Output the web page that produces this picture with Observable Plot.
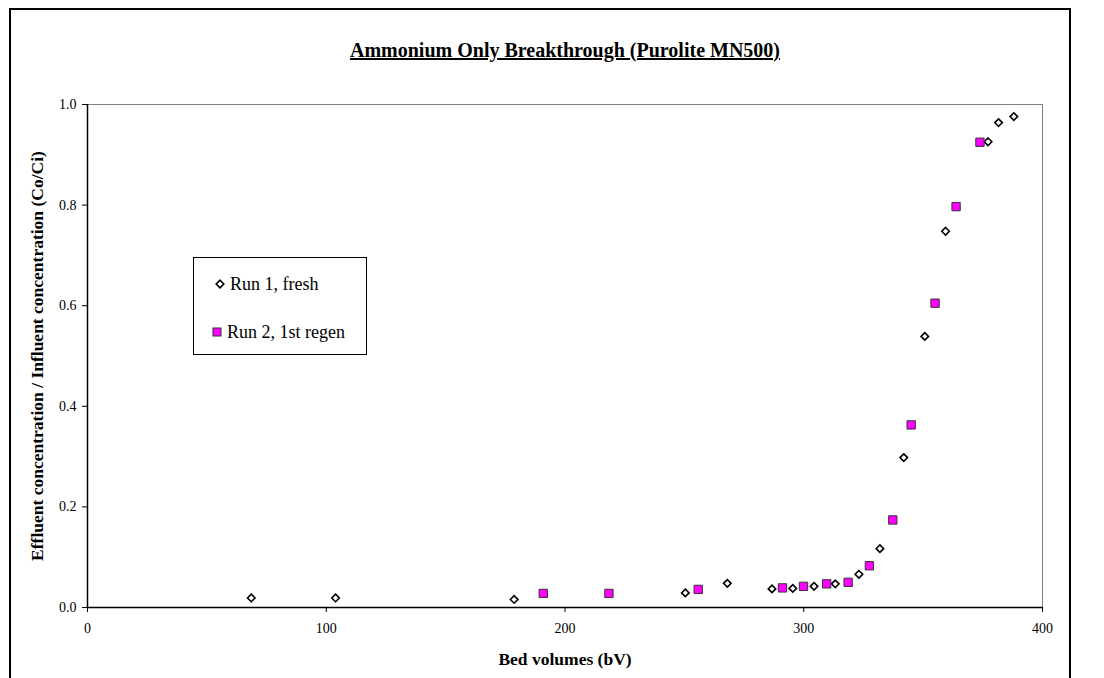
<!DOCTYPE html>
<html>
<head>
<meta charset="utf-8">
<script src="https://cdn.jsdelivr.net/npm/d3@7"></script>
<script src="https://cdn.jsdelivr.net/npm/@observablehq/plot@0.6"></script>
<style>
  html, body { margin: 0; padding: 0; background: white; }
  #wrap { position: relative; width: 1104px; height: 678px; overflow: hidden; font-family: "Liberation Serif", "Times New Roman", serif; }
  #border { position: absolute; left: 9px; top: 8px; width: 1062px; height: 700px; border: 2px solid black; box-sizing: border-box; }
  #title { position: absolute; left: 0; top: 38px; width: 1130px; text-align: center; font-weight: bold; font-size: 20px; line-height: 24px; text-decoration: underline; }
  #chart { position: absolute; left: 0; top: 0; }
  #legend { position: absolute; left: 193px; top: 257px; width: 174px; height: 98px; border: 1px solid black; box-sizing: border-box; background: white; font-size: 18px; }
  .item { position: absolute; display: flex; align-items: center; gap: 5px; line-height: 20px; }
</style>
</head>
<body>
<div id="wrap">
  <div id="chart"></div>
  <div id="border"></div>
  <div id="title">Ammonium Only Breakthrough (Purolite MN500)</div>
  <div id="legend">
    <div class="item" style="left:21px; top:16px"><svg width="10" height="10"><path d="M5,1.2L8.8,5L5,8.8L1.2,5Z" fill="white" stroke="black" stroke-width="1.6"/></svg><span id="l1"></span></div>
    <div class="item" style="left:18px; top:64px"><svg width="10" height="10"><rect x="1" y="1" width="8" height="8" fill="#FF00FF" stroke="#333" stroke-width="1"/></svg><span id="l2"></span></div>
  </div>
</div>
<script>
const seriesNames = ["Run 1, fresh", "Run 2, 1st regen"];
const run1X = [68.6, 103.9, 178.7, 250.4, 268.0, 286.7, 295.4, 304.3, 313.2, 323.1, 331.9, 341.9, 350.7, 359.4, 377.2, 381.6, 388.0];
const run1Y = [0.019, 0.019, 0.016, 0.029, 0.048, 0.037, 0.038, 0.042, 0.047, 0.066, 0.117, 0.298, 0.539, 0.748, 0.926, 0.964, 0.976];
const run2X = [190.9, 218.4, 255.8, 291.1, 299.9, 309.6, 318.6, 327.5, 337.3, 345.0, 355.0, 363.8, 373.8];
const run2Y = [0.028, 0.028, 0.036, 0.039, 0.042, 0.047, 0.050, 0.083, 0.174, 0.363, 0.605, 0.797, 0.925];
const xTicks = [0, 100, 200, 300, 400];
const yTicks = [0, 0.2, 0.4, 0.6, 0.8, 1.0];
const xLabel = "Bed volumes (bV)";
const yLabel = "Effluent concentration / Influent concentration (Co/Ci)";

const run1 = run1X.map((x, i) => ({x, y: run1Y[i]}));
const run2 = run2X.map((x, i) => ({x, y: run2Y[i]}));

document.getElementById("l1").textContent = seriesNames[0];
document.getElementById("l2").textContent = seriesNames[1];

const chart = Plot.plot({
  width: 1104,
  height: 678,
  marginLeft: 87,
  marginRight: 62,
  marginTop: 104,
  marginBottom: 71,
  x: {domain: [0, 400]},
  y: {domain: [0, 1]},
  style: {fontFamily: "'Liberation Serif', 'Times New Roman', serif", fontSize: "14px", color: "black", background: "white"},
  marks: [
    Plot.frame({stroke: "#808080"}),
    Plot.axisX({ticks: xTicks, tickSize: 5, tickPadding: 11, tickFormat: d3.format("d"), label: xLabel, labelAnchor: "center", labelArrow: "none", labelOffset: 57, fontSize: 14}),
    Plot.axisY({ticks: yTicks, tickSize: 5, tickPadding: 6, tickFormat: d3.format(".1f"), label: yLabel, labelAnchor: "center", labelArrow: "none", labelOffset: 57, fontSize: 14}),
    Plot.ruleX([0], {stroke: "black", strokeWidth: 1.5}),
    Plot.ruleY([0], {stroke: "black", strokeWidth: 1.5}),
    Plot.dot(run1, {x: "x", y: "y", symbol: "diamond2", r: 3.4, fill: "white", stroke: "black", strokeWidth: 1.6}),
    Plot.dot(run2, {x: "x", y: "y", symbol: "square", r: 4.7, fill: "#FF00FF", stroke: "#333", strokeWidth: 1})
  ]
});
chart.querySelectorAll('[aria-label="x-axis label"] text, [aria-label="y-axis label"] text').forEach(t => {
  t.style.fontWeight = "bold";
  t.style.fontSize = "17.5px";
});
document.getElementById("chart").appendChild(chart);
</script>
</body>
</html>
